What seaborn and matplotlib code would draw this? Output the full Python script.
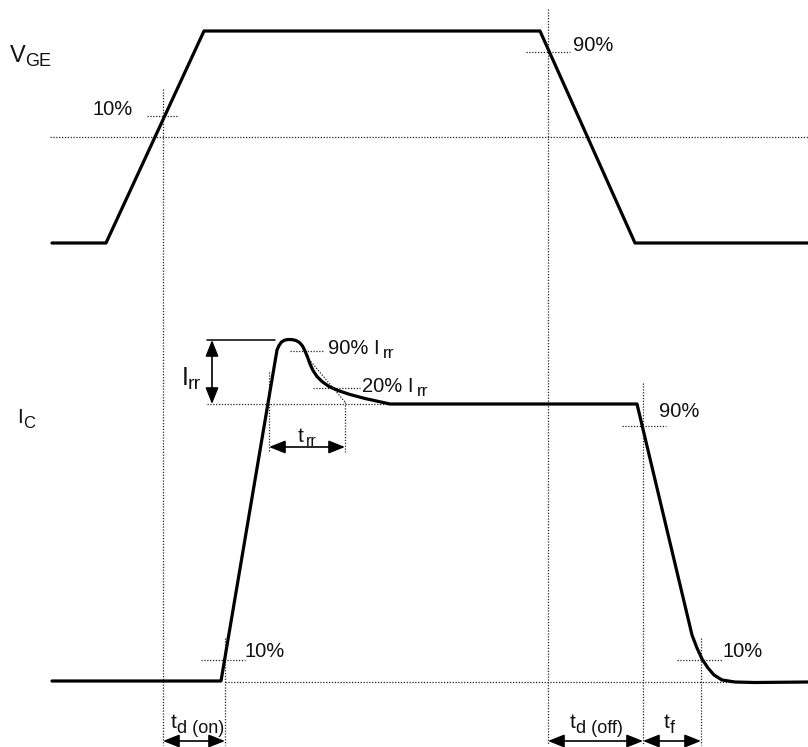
import matplotlib
matplotlib.use("Agg")
import matplotlib.pyplot as plt
import seaborn as sns

# Gate-emitter voltage waveform (x: time, y: screen level, top = high)
vge_x = [52, 106, 204, 540, 635, 808]
vge_y = [243, 243, 31, 31, 243, 243]

# Collector current waveform with reverse-recovery overshoot and tail
ic_x = [52, 221, 277, 279, 281.5, 284.5, 288, 292, 296, 299.5, 302.5, 305,
        307.5, 310, 313, 317, 322, 329, 338, 350, 365, 390, 637, 692, 697,
        702, 708, 714, 722, 735, 755, 808]
ic_y = [681, 681, 350, 345.5, 342, 340.2, 339.5, 339.6, 340.5, 342.5, 346,
        351, 357, 364, 370.5, 376.5, 381.5, 386.5, 390.5, 394.5, 398.5, 404,
        404, 635, 648, 659, 668, 675, 680, 682, 682.5, 682]

# Dotted reference lines: (x0, x1, y0, y1)
guides = [
    (50, 808, 137, 137),    # V_GE reference level
    (147, 178, 116, 116),   # V_GE 10 %
    (526, 570, 52, 52),     # V_GE 90 %
    (163, 163, 89, 745),    # turn-on start
    (548, 548, 9, 745),     # turn-off start
    (207, 390, 404, 404),   # I_C on-state level
    (290, 323, 351, 351),   # 90 % I_rr
    (313, 360, 388, 388),   # 20 % I_rr
    (307, 345, 357, 402),   # t_rr extrapolation
    (269, 269, 372, 452),
    (345, 345, 402, 452),
    (622, 666, 426, 426),   # I_C 90 %
    (643, 643, 383, 745),
    (201, 245, 660, 660),   # I_C 10 % (rise)
    (677, 722, 660, 660),   # I_C 10 % (fall)
    (225, 225, 638, 745),
    (701, 701, 638, 745),
    (225, 808, 682, 682),   # I_C off-state level
]

# Double-headed dimension arrows: (x0, y0, x1, y1)
spans = [
    (212, 340, 212, 404),   # I_rr
    (269, 447, 345, 447),   # t_rr
    (163, 741, 225, 741),   # t_d(on)
    (548, 741, 643, 741),   # t_d(off)
    (643, 741, 701, 741),   # t_f
]

# Text runs: (x, y_baseline, text, size); subscripts are separate runs
labels = [
    (9.5, 62, "V", 17), (25, 66, "GE", 13),
    (17.5, 423, "I", 15), (23.5, 428, "C", 12),
    (93, 115, "10%", 14.5),
    (573, 51, "90%", 14.5),
    (181.5, 385, "I", 18), (187.5, 389, "rr", 14),
    (328, 354, "90% I", 14.5), (382.5, 358, "rr", 12.5),
    (362, 392, "20% I", 14.5), (416.5, 396, "rr", 12.5),
    (298, 442, "t", 15), (305.5, 446, "rr", 11.5),
    (659, 417, "90%", 14.5),
    (245, 657, "10%", 14.5),
    (722, 657, "10%", 14.5),
    (170.5, 728, "t", 15), (177, 733, "d (on)", 13),
    (569.5, 728, "t", 15), (576, 733, "d (off)", 13),
    (663.5, 728, "t", 15), (670, 733, "f", 13),
]

sns.set_theme(style="white")
plt.rcParams["font.family"] = ["Liberation Sans", "DejaVu Sans"]

fig = plt.figure(figsize=(8.08, 7.47), dpi=100)
ax = fig.add_axes([0, 0, 1, 1])

for x0, x1, y0, y1 in guides:
    ax.plot([x0, x1], [y0, y1], color="#222222", lw=0.9,
            linestyle=(0, (1, 1.3)), zorder=1)

# solid reference at the recovery peak
ax.plot([207, 275], [340, 340], color="black", lw=1.1, zorder=2)

sns.lineplot(x=vge_x, y=vge_y, sort=False, estimator=None, color="black",
             lw=2.3, ax=ax, zorder=3)
sns.lineplot(x=ic_x, y=ic_y, sort=False, estimator=None, color="black",
             lw=2.3, ax=ax, zorder=3)

for x0, y0, x1, y1 in spans:
    ax.annotate("", xy=(x1, y1), xytext=(x0, y0),
                arrowprops=dict(arrowstyle="<|-|>,head_length=0.55,head_width=0.22",
                                color="black", lw=1.2, mutation_scale=18,
                                shrinkA=0, shrinkB=0), zorder=4)

for x, y, s, fs in labels:
    ax.text(x, y, s, fontsize=fs, ha="left", va="baseline", color="#111111")

ax.set_xlim(0, 808)
ax.set_ylim(747, 0)
ax.set_axis_off()
fig.savefig("out.png", dpi=100)
